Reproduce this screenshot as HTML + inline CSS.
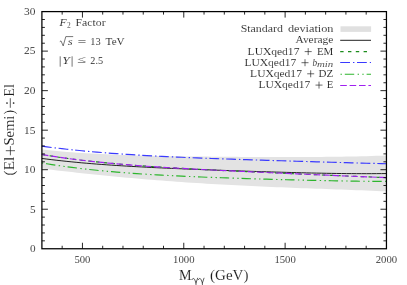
<!DOCTYPE html>
<html><head><meta charset="utf-8"><style>
html,body{margin:0;padding:0;background:#fff;}
svg{display:block;will-change:transform;}
text{font-family:"Liberation Serif",serif;fill:#1a1a1a;stroke:#fff;stroke-width:0.1px;paint-order:fill stroke;}
</style></head><body>
<svg width="407" height="285" viewBox="0 0 407 285">
<rect width="407" height="285" fill="#fff"/>
<path d="M41.9,149.59 L46.9,150.12 L51.9,150.61 L56.9,151.07 L61.9,151.50 L66.9,151.91 L71.9,152.29 L76.9,152.64 L81.8,152.97 L86.8,153.28 L91.8,153.57 L96.8,153.84 L101.8,154.09 L106.8,154.32 L111.8,154.54 L116.8,154.74 L121.8,154.92 L126.8,155.09 L131.8,155.25 L136.8,155.40 L141.8,155.54 L146.8,155.66 L151.8,155.78 L156.8,155.89 L161.7,155.99 L166.7,156.08 L171.7,156.16 L176.7,156.24 L181.7,156.32 L186.7,156.38 L191.7,156.45 L196.7,156.51 L201.7,156.56 L206.7,156.61 L211.7,156.66 L216.7,156.70 L221.7,156.74 L226.7,156.78 L231.7,156.81 L236.6,156.85 L241.6,156.88 L246.6,156.90 L251.6,156.93 L256.6,156.95 L261.6,156.97 L266.6,156.98 L271.6,157.00 L276.6,157.01 L281.6,157.01 L286.6,157.02 L291.6,157.01 L296.6,157.01 L301.6,157.00 L306.6,156.98 L311.5,156.96 L316.5,156.93 L321.5,156.89 L326.5,156.85 L331.5,156.80 L336.5,156.74 L341.5,156.67 L346.5,156.59 L351.5,156.50 L356.5,156.39 L361.5,156.28 L366.5,156.15 L371.5,156.00 L376.5,155.84 L381.5,155.67 L386.4,155.47 L386.4,191.36 L381.5,191.14 L376.5,190.94 L371.5,190.73 L366.5,190.53 L361.5,190.34 L356.5,190.15 L351.5,189.96 L346.5,189.78 L341.5,189.59 L336.5,189.41 L331.5,189.23 L326.5,189.05 L321.5,188.87 L316.5,188.69 L311.5,188.50 L306.6,188.32 L301.6,188.13 L296.6,187.94 L291.6,187.75 L286.6,187.55 L281.6,187.35 L276.6,187.15 L271.6,186.94 L266.6,186.73 L261.6,186.51 L256.6,186.28 L251.6,186.05 L246.6,185.82 L241.6,185.57 L236.6,185.32 L231.7,185.06 L226.7,184.80 L221.7,184.53 L216.7,184.24 L211.7,183.95 L206.7,183.66 L201.7,183.35 L196.7,183.04 L191.7,182.71 L186.7,182.38 L181.7,182.04 L176.7,181.69 L171.7,181.32 L166.7,180.95 L161.7,180.57 L156.8,180.19 L151.8,179.79 L146.8,179.38 L141.8,178.96 L136.8,178.53 L131.8,178.09 L126.8,177.64 L121.8,177.19 L116.8,176.72 L111.8,176.24 L106.8,175.76 L101.8,175.26 L96.8,174.75 L91.8,174.24 L86.8,173.72 L81.8,173.18 L76.9,172.64 L71.9,172.09 L66.9,171.53 L61.9,170.97 L56.9,170.39 L51.9,169.81 L46.9,169.22 L41.9,168.62Z" fill="#e3e3e3"/>
<g fill="none" stroke-width="1.15">
<path d="M41.9,158.43 L46.9,159.08 L51.9,159.70 L56.9,160.29 L61.9,160.84 L66.9,161.38 L71.9,161.88 L76.9,162.37 L81.8,162.83 L86.8,163.26 L91.8,163.68 L96.8,164.08 L101.8,164.46 L106.8,164.82 L111.8,165.17 L116.8,165.50 L121.8,165.81 L126.8,166.12 L131.8,166.41 L136.8,166.69 L141.8,166.96 L146.8,167.22 L151.8,167.47 L156.8,167.71 L161.7,167.94 L166.7,168.17 L171.7,168.39 L176.7,168.60 L181.7,168.81 L186.7,169.01 L191.7,169.21 L196.7,169.41 L201.7,169.60 L206.7,169.78 L211.7,169.97 L216.7,170.15 L221.7,170.32 L226.7,170.50 L231.7,170.67 L236.6,170.84 L241.6,171.00 L246.6,171.17 L251.6,171.33 L256.6,171.49 L261.6,171.64 L266.6,171.79 L271.6,171.94 L276.6,172.09 L281.6,172.23 L286.6,172.37 L291.6,172.51 L296.6,172.64 L301.6,172.76 L306.6,172.88 L311.5,173.00 L316.5,173.10 L321.5,173.20 L326.5,173.30 L331.5,173.38 L336.5,173.46 L341.5,173.52 L346.5,173.58 L351.5,173.62 L356.5,173.65 L361.5,173.67 L366.5,173.68 L371.5,173.67 L376.5,173.64 L381.5,173.60 L386.4,173.54" stroke="#222" stroke-width="1"/>
<path d="M41.9,154.53 L46.9,155.36 L51.9,156.15 L56.9,156.91 L61.9,157.63 L66.9,158.33 L71.9,158.99 L76.9,159.63 L81.8,160.24 L86.8,160.82 L91.8,161.38 L96.8,161.92 L101.8,162.43 L106.8,162.92 L111.8,163.39 L116.8,163.84 L121.8,164.28 L126.8,164.69 L131.8,165.09 L136.8,165.48 L141.8,165.85 L146.8,166.20 L151.8,166.55 L156.8,166.88 L161.7,167.20 L166.7,167.51 L171.7,167.81 L176.7,168.11 L181.7,168.39 L186.7,168.67 L191.7,168.94 L196.7,169.20 L201.7,169.46 L206.7,169.71 L211.7,169.96 L216.7,170.21 L221.7,170.45 L226.7,170.69 L231.7,170.92 L236.6,171.15 L241.6,171.38 L246.6,171.61 L251.6,171.84 L256.6,172.07 L261.6,172.29 L266.6,172.51 L271.6,172.74 L276.6,172.96 L281.6,173.18 L286.6,173.40 L291.6,173.62 L296.6,173.84 L301.6,174.06 L306.6,174.28 L311.5,174.50 L316.5,174.72 L321.5,174.94 L326.5,175.16 L331.5,175.37 L336.5,175.59 L341.5,175.80 L346.5,176.01 L351.5,176.22 L356.5,176.43 L361.5,176.63 L366.5,176.84 L371.5,177.03 L376.5,177.23 L381.5,177.42 L386.4,177.60" stroke="#1c8c1c" stroke-dasharray="3.4 4.4"/>
<path d="M41.9,146.19 L46.9,146.85 L51.9,147.49 L56.9,148.10 L61.9,148.68 L66.9,149.24 L71.9,149.77 L76.9,150.29 L81.8,150.78 L86.8,151.25 L91.8,151.70 L96.8,152.13 L101.8,152.54 L106.8,152.94 L111.8,153.31 L116.8,153.68 L121.8,154.03 L126.8,154.36 L131.8,154.68 L136.8,154.99 L141.8,155.28 L146.8,155.57 L151.8,155.84 L156.8,156.10 L161.7,156.36 L166.7,156.60 L171.7,156.84 L176.7,157.07 L181.7,157.29 L186.7,157.50 L191.7,157.71 L196.7,157.91 L201.7,158.11 L206.7,158.30 L211.7,158.49 L216.7,158.67 L221.7,158.85 L226.7,159.02 L231.7,159.19 L236.6,159.36 L241.6,159.53 L246.6,159.69 L251.6,159.85 L256.6,160.01 L261.6,160.17 L266.6,160.33 L271.6,160.48 L276.6,160.64 L281.6,160.79 L286.6,160.94 L291.6,161.09 L296.6,161.24 L301.6,161.39 L306.6,161.54 L311.5,161.68 L316.5,161.83 L321.5,161.97 L326.5,162.12 L331.5,162.26 L336.5,162.40 L341.5,162.54 L346.5,162.68 L351.5,162.82 L356.5,162.96 L361.5,163.09 L366.5,163.22 L371.5,163.35 L376.5,163.48 L381.5,163.60 L386.4,163.72" stroke="#3a3aff" stroke-dasharray="9.8 3.0 1.4 2.6"/>
<path d="M41.9,162.94 L46.9,163.78 L51.9,164.57 L56.9,165.34 L61.9,166.06 L66.9,166.76 L71.9,167.42 L76.9,168.04 L81.8,168.64 L86.8,169.21 L91.8,169.76 L96.8,170.27 L101.8,170.77 L106.8,171.23 L111.8,171.68 L116.8,172.11 L121.8,172.51 L126.8,172.90 L131.8,173.26 L136.8,173.61 L141.8,173.95 L146.8,174.27 L151.8,174.57 L156.8,174.86 L161.7,175.14 L166.7,175.41 L171.7,175.66 L176.7,175.91 L181.7,176.14 L186.7,176.37 L191.7,176.59 L196.7,176.80 L201.7,177.00 L206.7,177.20 L211.7,177.39 L216.7,177.57 L221.7,177.75 L226.7,177.93 L231.7,178.10 L236.6,178.26 L241.6,178.42 L246.6,178.58 L251.6,178.73 L256.6,178.88 L261.6,179.03 L266.6,179.17 L271.6,179.31 L276.6,179.45 L281.6,179.59 L286.6,179.72 L291.6,179.85 L296.6,179.97 L301.6,180.09 L306.6,180.21 L311.5,180.33 L316.5,180.44 L321.5,180.55 L326.5,180.65 L331.5,180.75 L336.5,180.84 L341.5,180.93 L346.5,181.02 L351.5,181.09 L356.5,181.16 L361.5,181.22 L366.5,181.28 L371.5,181.32 L376.5,181.36 L381.5,181.39 L386.4,181.40" stroke="#2db52d" stroke-dasharray="9.4 3.4 1.4 3.3 1.4 2.9" stroke-dashoffset="17.6"/>
<path d="M41.9,154.53 L46.9,155.36 L51.9,156.15 L56.9,156.91 L61.9,157.63 L66.9,158.33 L71.9,158.99 L76.9,159.63 L81.8,160.24 L86.8,160.82 L91.8,161.38 L96.8,161.92 L101.8,162.43 L106.8,162.92 L111.8,163.39 L116.8,163.84 L121.8,164.28 L126.8,164.69 L131.8,165.09 L136.8,165.48 L141.8,165.85 L146.8,166.20 L151.8,166.55 L156.8,166.88 L161.7,167.20 L166.7,167.51 L171.7,167.81 L176.7,168.11 L181.7,168.39 L186.7,168.67 L191.7,168.94 L196.7,169.20 L201.7,169.46 L206.7,169.71 L211.7,169.96 L216.7,170.21 L221.7,170.45 L226.7,170.69 L231.7,170.92 L236.6,171.15 L241.6,171.38 L246.6,171.61 L251.6,171.84 L256.6,172.07 L261.6,172.29 L266.6,172.51 L271.6,172.74 L276.6,172.96 L281.6,173.18 L286.6,173.40 L291.6,173.62 L296.6,173.84 L301.6,174.06 L306.6,174.28 L311.5,174.50 L316.5,174.72 L321.5,174.94 L326.5,175.16 L331.5,175.37 L336.5,175.59 L341.5,175.80 L346.5,176.01 L351.5,176.22 L356.5,176.43 L361.5,176.63 L366.5,176.84 L371.5,177.03 L376.5,177.23 L381.5,177.42 L386.4,177.60" stroke="#a020f0" stroke-dasharray="6.6 2.8"/>
</g>
<g stroke="#000" stroke-width="0.85" fill="none"><path d="M62.17,248.75v-3.0M62.17,11.6v3.0"/><path d="M82.44,248.75v-6.0M82.44,11.6v6.0"/><path d="M102.70,248.75v-3.0M102.70,11.6v3.0"/><path d="M122.97,248.75v-3.0M122.97,11.6v3.0"/><path d="M143.24,248.75v-3.0M143.24,11.6v3.0"/><path d="M163.51,248.75v-3.0M163.51,11.6v3.0"/><path d="M183.77,248.75v-6.0M183.77,11.6v6.0"/><path d="M204.04,248.75v-3.0M204.04,11.6v3.0"/><path d="M224.31,248.75v-3.0M224.31,11.6v3.0"/><path d="M244.58,248.75v-3.0M244.58,11.6v3.0"/><path d="M264.84,248.75v-3.0M264.84,11.6v3.0"/><path d="M285.11,248.75v-6.0M285.11,11.6v6.0"/><path d="M305.38,248.75v-3.0M305.38,11.6v3.0"/><path d="M325.65,248.75v-3.0M325.65,11.6v3.0"/><path d="M345.91,248.75v-3.0M345.91,11.6v3.0"/><path d="M366.18,248.75v-3.0M366.18,11.6v3.0"/><path d="M41.9,240.84h3.0M386.45,240.84h-3.0"/><path d="M41.9,232.94h3.0M386.45,232.94h-3.0"/><path d="M41.9,225.03h3.0M386.45,225.03h-3.0"/><path d="M41.9,217.13h3.0M386.45,217.13h-3.0"/><path d="M41.9,209.22h6.0M386.45,209.22h-6.0"/><path d="M41.9,201.32h3.0M386.45,201.32h-3.0"/><path d="M41.9,193.41h3.0M386.45,193.41h-3.0"/><path d="M41.9,185.51h3.0M386.45,185.51h-3.0"/><path d="M41.9,177.61h3.0M386.45,177.61h-3.0"/><path d="M41.9,169.70h6.0M386.45,169.70h-6.0"/><path d="M41.9,161.80h3.0M386.45,161.80h-3.0"/><path d="M41.9,153.89h3.0M386.45,153.89h-3.0"/><path d="M41.9,145.99h3.0M386.45,145.99h-3.0"/><path d="M41.9,138.08h3.0M386.45,138.08h-3.0"/><path d="M41.9,130.18h6.0M386.45,130.18h-6.0"/><path d="M41.9,122.27h3.0M386.45,122.27h-3.0"/><path d="M41.9,114.37h3.0M386.45,114.37h-3.0"/><path d="M41.9,106.46h3.0M386.45,106.46h-3.0"/><path d="M41.9,98.56h3.0M386.45,98.56h-3.0"/><path d="M41.9,90.65h6.0M386.45,90.65h-6.0"/><path d="M41.9,82.75h3.0M386.45,82.75h-3.0"/><path d="M41.9,74.84h3.0M386.45,74.84h-3.0"/><path d="M41.9,66.93h3.0M386.45,66.93h-3.0"/><path d="M41.9,59.03h3.0M386.45,59.03h-3.0"/><path d="M41.9,51.12h6.0M386.45,51.12h-6.0"/><path d="M41.9,43.22h3.0M386.45,43.22h-3.0"/><path d="M41.9,35.31h3.0M386.45,35.31h-3.0"/><path d="M41.9,27.41h3.0M386.45,27.41h-3.0"/><path d="M41.9,19.50h3.0M386.45,19.50h-3.0"/></g>
<rect x="41.9" y="11.6" width="344.55" height="237.15" fill="none" stroke="#000" stroke-width="1.25"/>
<g font-size="10.6px"><text x="82.4" y="262.6" text-anchor="middle" textLength="16" lengthAdjust="spacingAndGlyphs">500</text><text x="183.8" y="262.6" text-anchor="middle" textLength="21.4" lengthAdjust="spacingAndGlyphs">1000</text><text x="285.1" y="262.6" text-anchor="middle" textLength="21.4" lengthAdjust="spacingAndGlyphs">1500</text><text x="386.4" y="262.6" text-anchor="middle" textLength="21.4" lengthAdjust="spacingAndGlyphs">2000</text><text x="35.5" y="252.1" text-anchor="end" textLength="5.6" lengthAdjust="spacingAndGlyphs">0</text><text x="35.5" y="212.5" text-anchor="end" textLength="5.6" lengthAdjust="spacingAndGlyphs">5</text><text x="35.5" y="173.0" text-anchor="end" textLength="11.4" lengthAdjust="spacingAndGlyphs">10</text><text x="35.5" y="133.5" text-anchor="end" textLength="11.4" lengthAdjust="spacingAndGlyphs">15</text><text x="35.5" y="94.0" text-anchor="end" textLength="11.4" lengthAdjust="spacingAndGlyphs">20</text><text x="35.5" y="54.4" text-anchor="end" textLength="11.4" lengthAdjust="spacingAndGlyphs">25</text><text x="35.5" y="14.9" text-anchor="end" textLength="11.4" lengthAdjust="spacingAndGlyphs">30</text></g>
<g font-size="10.6px">
<text x="59.6" y="26.2" textLength="7.1" lengthAdjust="spacingAndGlyphs" font-style="italic">F</text>
<text x="66.9" y="28.2" font-size="7.4px">2</text>
<text x="75.6" y="26.2" textLength="30" lengthAdjust="spacingAndGlyphs" >Factor</text>
<path d="M59.8,41.6l1.2,-0.7l2.2,5l2.6,-9.3h7.4" stroke="#1a1a1a" stroke-width="0.6" fill="none"/>
<text x="67.7" y="45.05" textLength="4.9" lengthAdjust="spacingAndGlyphs" font-style="italic">s</text>
<text x="77.5" y="45.05" textLength="8.9" lengthAdjust="spacingAndGlyphs" >=</text>
<text x="90.3" y="45.05" textLength="10.4" lengthAdjust="spacingAndGlyphs" >13</text>
<text x="105.6" y="45.05" textLength="19.1" lengthAdjust="spacingAndGlyphs" >TeV</text>
<path d="M60.2,56.3v10.4M72.1,56.3v10.4" stroke="#1a1a1a" stroke-width="0.6"/>
<text x="62.2" y="63.7" textLength="7.5" lengthAdjust="spacingAndGlyphs" font-style="italic">Y</text>
<text x="77.5" y="63.1" textLength="8.9" lengthAdjust="spacingAndGlyphs" >≤</text>
<text x="90.3" y="63.7" textLength="12.8" lengthAdjust="spacingAndGlyphs" >2.5</text>
</g>
<g font-size="11.2px">
<text x="240.7" y="32.3" textLength="42.2" lengthAdjust="spacingAndGlyphs" >Standard</text>
<text x="287.9" y="32.3" textLength="45.6" lengthAdjust="spacingAndGlyphs" >deviation</text>
<text x="295.5" y="43.4" textLength="37.8" lengthAdjust="spacingAndGlyphs" >Average</text>
<text x="247.6" y="54.5" textLength="51.8" lengthAdjust="spacingAndGlyphs" >LUXqed17</text><path d="M304.70,51.60h7M308.20,48.10v7" stroke="#1a1a1a" stroke-width="0.65" fill="none"/><text x="316.9" y="54.5" textLength="16.4" lengthAdjust="spacingAndGlyphs" >EM</text>
<text x="244.4" y="65.6" textLength="51.8" lengthAdjust="spacingAndGlyphs" >LUXqed17</text><path d="M301.50,62.70h7M305.00,59.20v7" stroke="#1a1a1a" stroke-width="0.65" fill="none"/><text x="312.5" y="65.6" textLength="4.6" lengthAdjust="spacingAndGlyphs" font-style="italic">b</text><text x="317.0" y="67.3" textLength="16.3" lengthAdjust="spacingAndGlyphs" font-style="italic" font-size="7.8px">min</text>
<text x="250.1" y="76.7" textLength="51.8" lengthAdjust="spacingAndGlyphs" >LUXqed17</text><path d="M307.20,73.80h7M310.70,70.30v7" stroke="#1a1a1a" stroke-width="0.65" fill="none"/><text x="318.6" y="76.7" textLength="14.7" lengthAdjust="spacingAndGlyphs" >DZ</text>
<text x="258.4" y="88.0" textLength="51.8" lengthAdjust="spacingAndGlyphs" >LUXqed17</text><path d="M315.50,85.10h7M319.00,81.60v7" stroke="#1a1a1a" stroke-width="0.65" fill="none"/><text x="326.7" y="88.0" textLength="6.6" lengthAdjust="spacingAndGlyphs" >E</text>
</g>
<rect x="340.5" y="26.3" width="30.6" height="5.6" fill="#e0e0e0"/>
<g fill="none" stroke-width="1.15">
<path d="M340.2,40.3h30.8" stroke="#222" stroke-width="1"/>
<path d="M340.2,51.6h30.8" stroke="#1c8c1c" stroke-dasharray="3.4 4.4"/>
<path d="M340.2,62.5h30.8" stroke="#3a3aff" stroke-dasharray="9.8 3.0 1.4 2.6"/>
<path d="M340.2,74.2h30.8" stroke="#2db52d" stroke-dasharray="9.4 3.4 1.4 3.3 1.4 2.9" stroke-dashoffset="17.2"/>
<path d="M340.2,85.5h30.8" stroke="#a020f0" stroke-dasharray="6.6 2.8"/>
</g>
<g font-size="14.2px">
<text x="178.9" y="280.1" textLength="12.6" lengthAdjust="spacingAndGlyphs" >M</text>
<text x="210.1" y="280.1" textLength="38.4" lengthAdjust="spacingAndGlyphs" >(GeV)</text>
</g>
<g fill="none" stroke="#1a1a1a" stroke-width="0.7" stroke-linecap="round">
<path id="gm" d="M191.9,279.6c0.7,-1.5 2.2,-1.6 2.9,0.2l1.2,3.2v2.2M197.6,278.2l-1.6,4.8"/>
<path d="M198.3,279.6c0.7,-1.5 2.2,-1.6 2.9,0.2l1.2,3.2v2.2M204.0,278.2l-1.6,4.8"/>
</g>
<g transform="translate(13.8,0) rotate(-90)" font-size="13.8px">
<text x="-175.4" y="0" textLength="18.6" lengthAdjust="spacingAndGlyphs" >(El</text>
<text x="-145.6" y="0" textLength="30.0" lengthAdjust="spacingAndGlyphs" >Semi</text>
<text x="-114.6" y="0">)</text>
<text x="-96.4" y="0" textLength="12.2" lengthAdjust="spacingAndGlyphs" >El</text>
</g>
<g fill="none" stroke="#1a1a1a" stroke-width="0.7">
<path d="M10.4,146.1v9.2M5.8,150.7h9.2"/>
<path d="M10.3,98.2v9.6"/>
</g>
<circle cx="7.0" cy="103.0" r="0.85" fill="#1a1a1a"/><circle cx="13.6" cy="103.0" r="0.85" fill="#1a1a1a"/>
</svg>
</body></html>
